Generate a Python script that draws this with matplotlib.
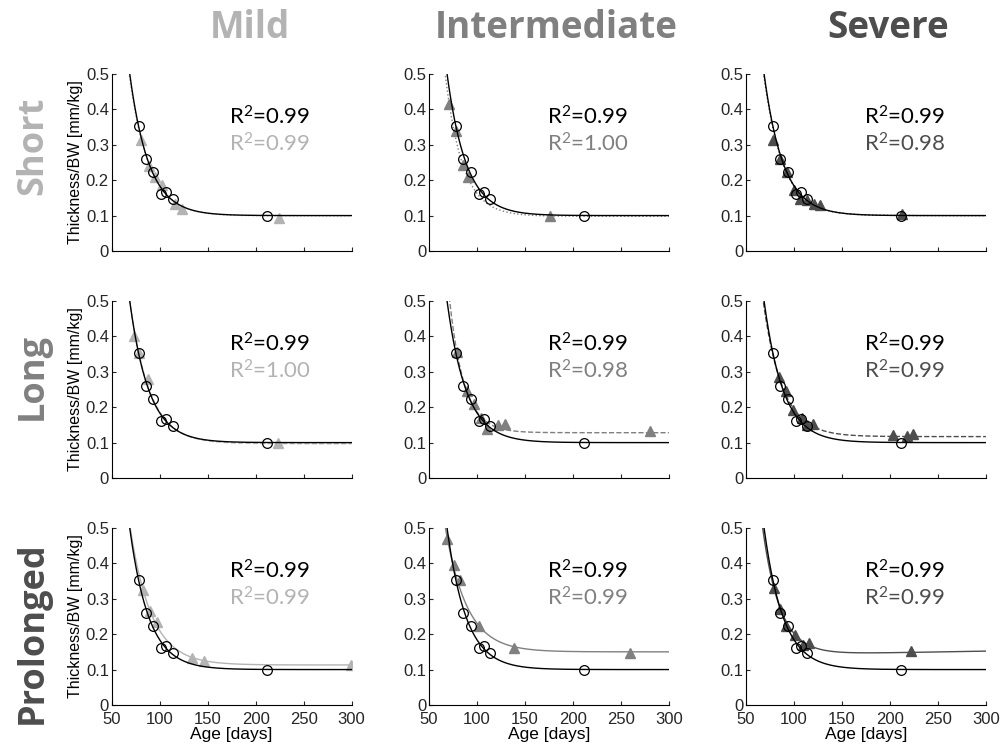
import numpy as np
import matplotlib
matplotlib.use("Agg")
import matplotlib.pyplot as plt

plt.rcParams['font.family'] = ['Liberation Sans', 'DejaVu Sans']
plt.rcParams['mathtext.fontset'] = 'custom'
plt.rcParams['mathtext.rm'] = 'Lato'
plt.rcParams['mathtext.it'] = 'Lato'

# severity columns / duration rows
col_titles = ['Mild', 'Intermediate', 'Severe']
row_titles = ['Short', 'Long', 'Prolonged']
col_colors = ['#b3b3b3', '#808080', '#4d4d4d']
row_colors = ['#b3b3b3', '#808080', '#4d4d4d']
row_styles = [':', '--', '-']

# control group (same in every panel)
ctrl_age = [78.3, 85.5, 93.5, 101.9, 107.0, 113.6, 211.4]
ctrl_thk = [0.354, 0.261, 0.222, 0.162, 0.167, 0.148, 0.099]
ctrl_fit = (0.100, 0.377, 0.050, 0.0)   # plateau, amplitude, rate, slope
ctrl_r2 = '0.99'

# treated groups, [row][col]
grp_age = [
    [[80.4, 88.7, 95.3, 102.9, 115.6, 123.5, 224.0],
     [71.2, 77.8, 85.2, 90.8, 175.8],
     [78.5, 85.5, 92.4, 100.1, 106.3, 114.0, 121.0, 127.2, 212.4]],
    [[73.1, 78.7, 88.0, 222.8],
     [79.0, 89.4, 96.4, 104.0, 110.6, 121.5, 129.0, 280.4],
     [84.4, 91.3, 98.6, 108.0, 113.9, 119.5, 203.5, 217.4, 224.3]],
    [[82.7, 89.8, 96.8, 133.5, 146.0, 299.0],
     [69.2, 76.2, 82.4, 102.6, 138.9, 259.5],
     [79.2, 85.5, 91.4, 101.1, 109.0, 116.0, 222.0]],
]
grp_thk = [
    [[0.314, 0.239, 0.209, 0.185, 0.134, 0.120, 0.094],
     [0.414, 0.339, 0.244, 0.208, 0.098],
     [0.313, 0.261, 0.224, 0.172, 0.148, 0.145, 0.132, 0.129, 0.104]],
    [[0.401, 0.352, 0.279, 0.098],
     [0.357, 0.245, 0.210, 0.170, 0.139, 0.151, 0.153, 0.132],
     [0.285, 0.245, 0.193, 0.169, 0.150, 0.152, 0.122, 0.120, 0.125]],
    [[0.325, 0.266, 0.234, 0.133, 0.125, 0.113],
     [0.469, 0.394, 0.354, 0.222, 0.160, 0.146],
     [0.329, 0.270, 0.223, 0.199, 0.168, 0.174, 0.152]],
]
grp_fit = [
    [(0.099, 0.365, 0.049, 0.0), (0.098, 0.337, 0.055, 0.0), (0.100, 0.370, 0.050, 0.0)],
    [(0.097, 0.380, 0.048, 0.0), (0.128, 0.411, 0.065, 0.0), (0.117, 0.345, 0.050, 0.0)],
    [(0.113, 0.375, 0.045, 0.0), (0.150, 0.308, 0.0446, 0.0), (0.1413, 0.310, 0.055, 4.7e-5)],
]
grp_r2 = [['0.99', '1.00', '0.98'],
          ['1.00', '0.98', '0.99'],
          ['0.99', '0.99', '0.99']]


def model(x, p):
    t = x - 70.0
    return p[0] + p[1] * np.exp(-p[2] * t) + p[3] * t


xs = np.linspace(55, 300, 600)

fig = plt.figure(figsize=(10.08, 7.51), dpi=100)
lefts = [0.1108, 0.4256, 0.7401]
bottoms = [0.6658, 0.3635, 0.0613]

for r in range(3):
    for c in range(3):
        ax = fig.add_axes([lefts[c], bottoms[r], 0.238, 0.2357])
        col = col_colors[c]
        ax.plot(xs, model(xs, grp_fit[r][c]), color=col, ls=row_styles[r], lw=1.0)
        ax.plot(grp_age[r][c], grp_thk[r][c], '^', color=col, ms=6.5, mec=col)
        ax.plot(xs, model(xs, ctrl_fit), color='black', lw=1.0)
        ax.plot(ctrl_age, ctrl_thk, 'o', mfc='none', mec='black', ms=7, mew=0.9)

        ax.set_xlim(50, 300)
        ax.set_ylim(0, 0.5)
        ax.set_xticks([50, 100, 150, 200, 250, 300])
        ax.set_yticks([0, 0.1, 0.2, 0.3, 0.4, 0.5])
        ax.set_yticklabels(['0', '0.1', '0.2', '0.3', '0.4', '0.5'])
        ax.spines['top'].set_visible(False)
        ax.spines['right'].set_visible(False)
        ax.tick_params(direction='in', labelsize=12, length=3, width=0.8,
                       colors='#262626')
        ax.tick_params(axis='y', pad=2)
        ax.tick_params(axis='x', pad=5)
        if r < 2:
            ax.set_xticklabels([])
        else:
            ax.set_xlabel('Age [days]', fontsize=12.5, labelpad=0)
        if c == 0:
            ax.set_ylabel('Thickness/BW [mm/kg]', fontsize=11.5, labelpad=2)

        ax.text(0.49, 0.755, r'R$^2$=' + ctrl_r2, transform=ax.transAxes,
                fontsize=16, family='Lato', color='black', va='center')
        ax.text(0.49, 0.605, r'R$^2$=' + grp_r2[r][c], transform=ax.transAxes,
                fontsize=16, family='Lato', color=col, va='center')

title_x = [250, 556, 888]
for c in range(3):
    fig.text(title_x[c] / 1008, 1 - 28 / 751, col_titles[c], ha='center',
             va='center', fontsize=26.5, fontweight='bold', family='Open Sans',
             color=col_colors[c])

row_y = [146, 376, 633]
for r in range(3):
    fig.text(33 / 1008, 1 - row_y[r] / 751, row_titles[r], ha='center',
             va='center', rotation=90, fontsize=26, fontweight='bold',
             family='Open Sans', color=row_colors[r])

fig.savefig('out.png', dpi=100)
